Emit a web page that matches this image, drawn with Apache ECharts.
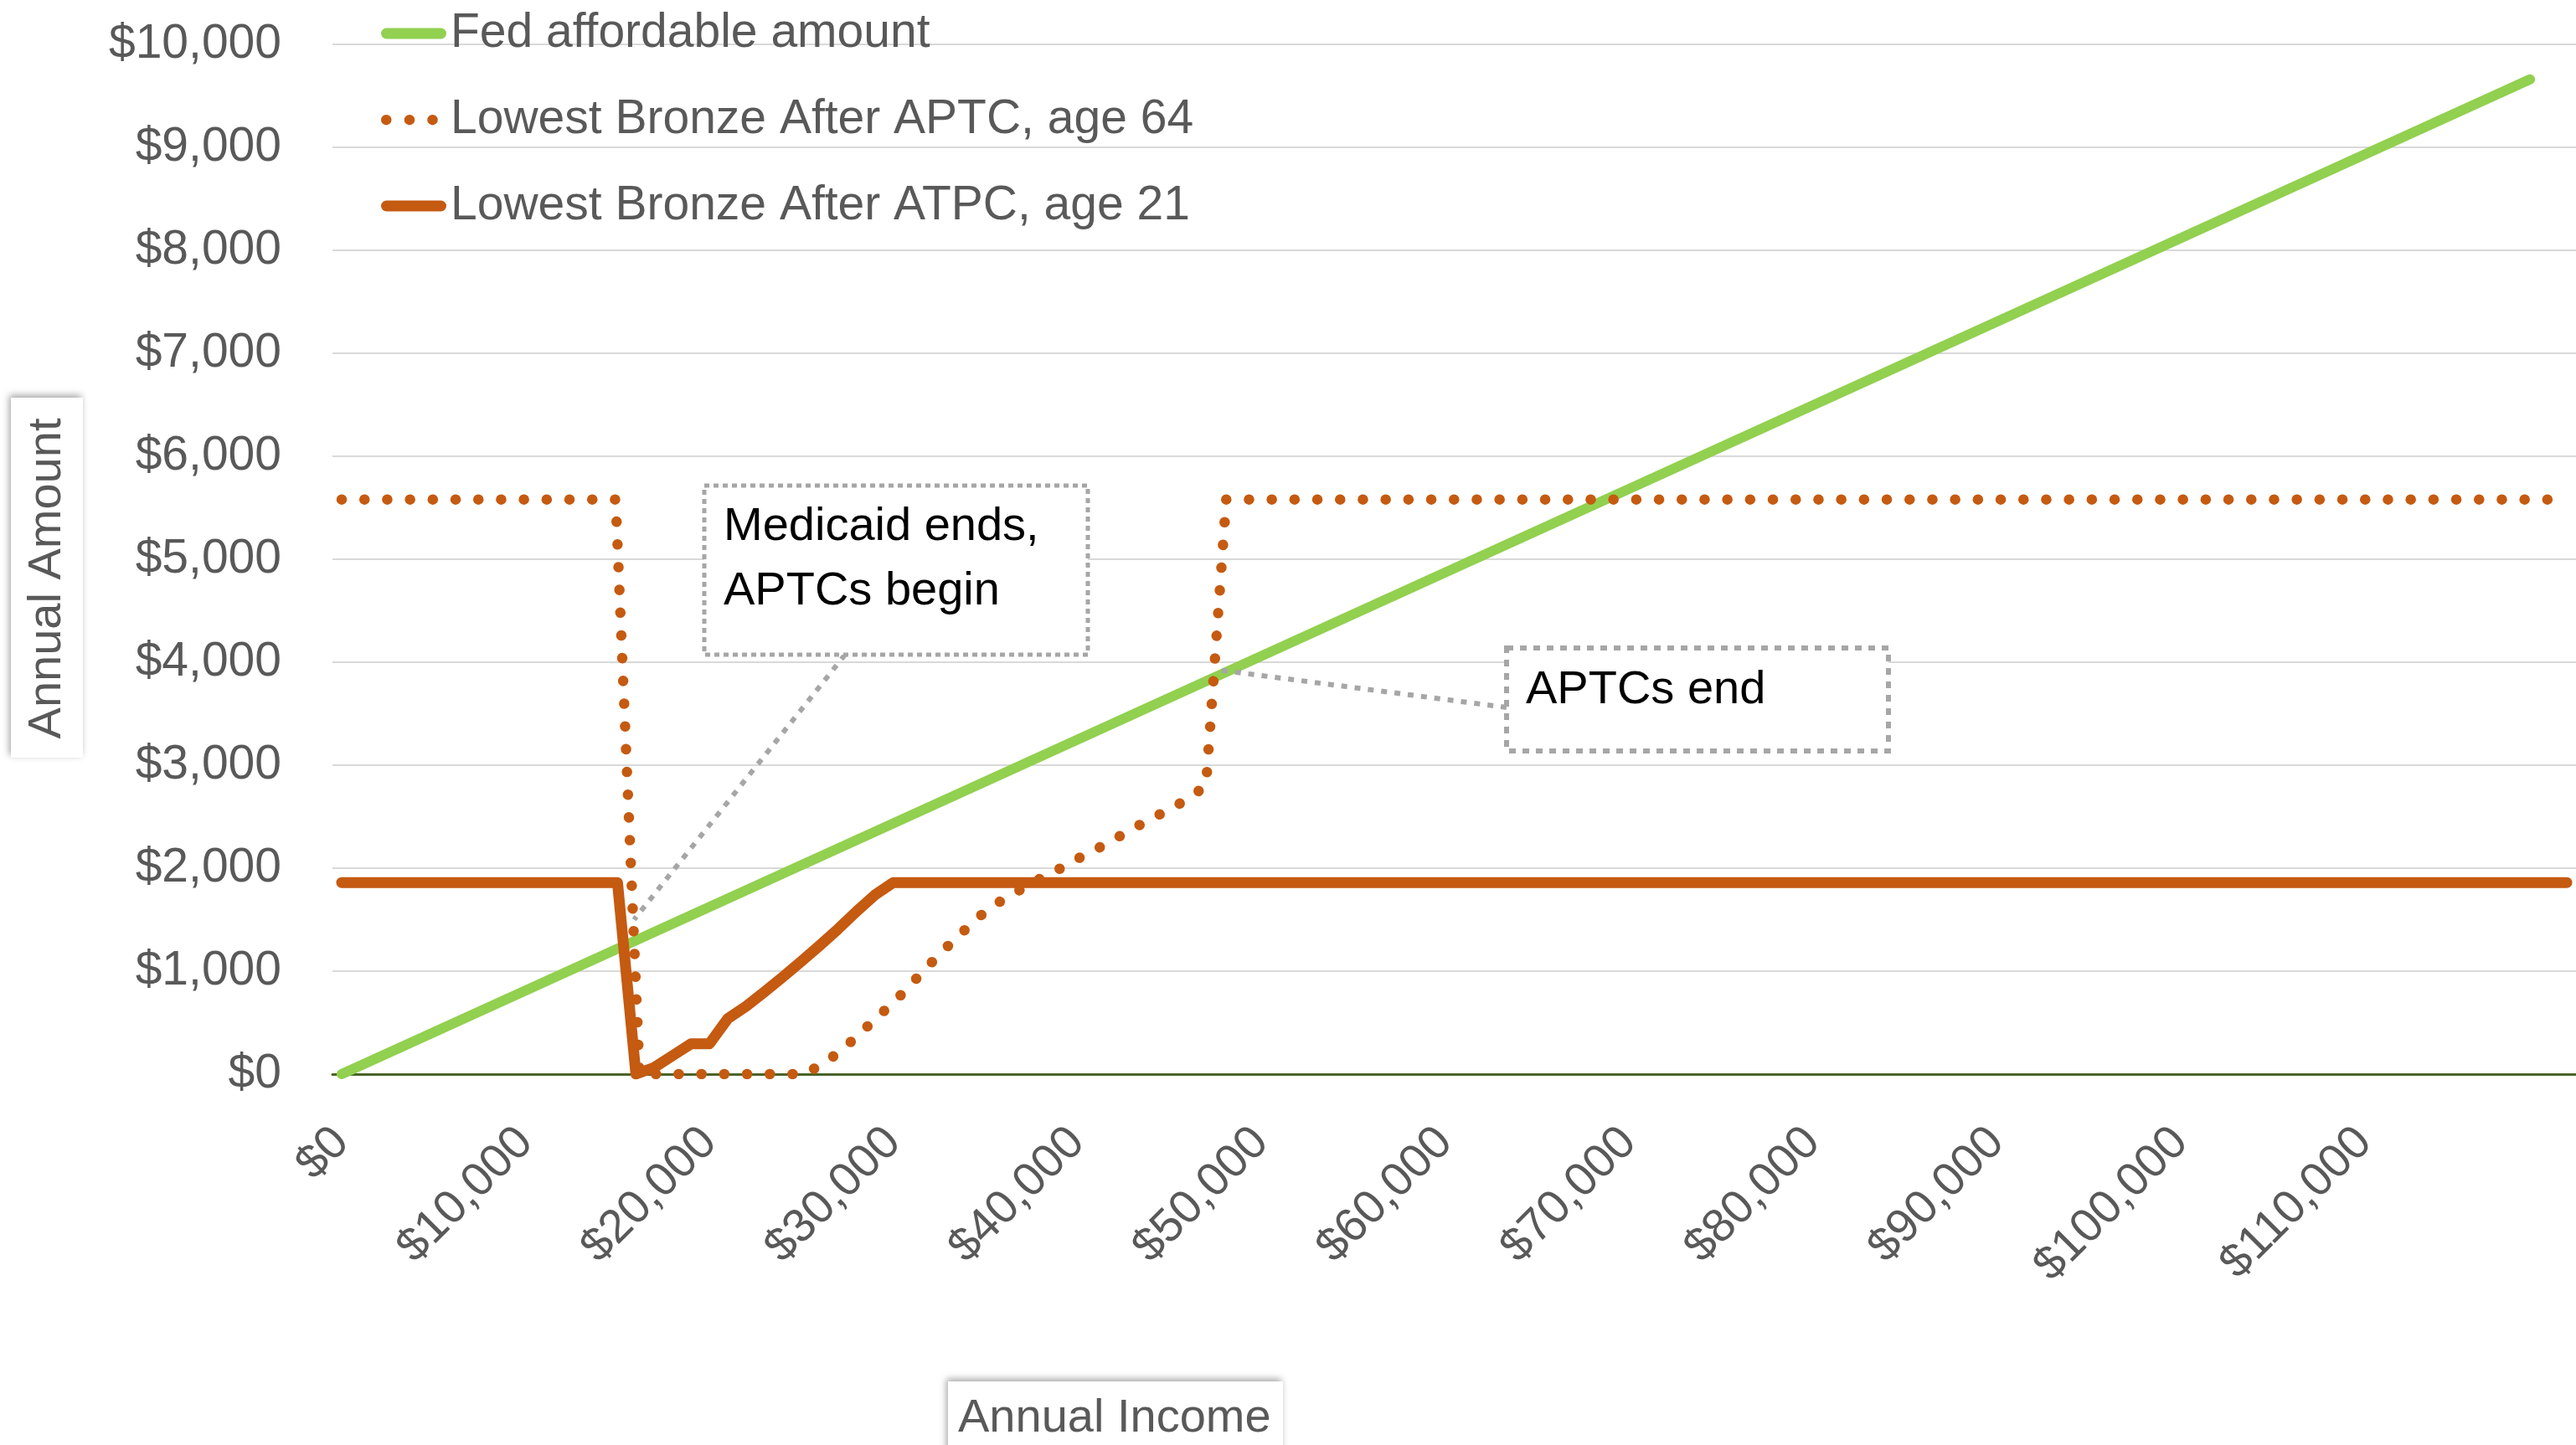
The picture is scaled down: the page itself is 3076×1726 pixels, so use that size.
<!DOCTYPE html>
<html>
<head>
<meta charset="utf-8">
<title>Lowest Bronze premium after APTC vs. federal affordable amount</title>
<script src="https://cdn.jsdelivr.net/npm/echarts@6/dist/echarts.min.js"></script>
<style>
  html, body { margin: 0; padding: 0; background: #ffffff; }
  #chart { width: 3076px; height: 1726px; }
</style>
</head>
<body>
<div id="chart"></div>
<script>
// Horizontal axis tick labels (annual income, dollars)
const incomeTicks = [0, 10000, 20000, 30000, 40000, 50000, 60000, 70000, 80000, 90000, 100000, 110000];

// Fed affordable amount
const fedIncome = [0, 59500, 119000];
const fedAmount = [0, 4830, 9660];

// Lowest Bronze after APTC, age 64
const age64Income = [0, 14900, 16200, 25100, 26100, 27100, 28100, 29100, 30100, 31000, 32000, 33000,
  34000, 35000, 36000, 37000, 38000, 39000, 40000, 41000, 42000, 42900, 43900, 44900, 45900,
  47000, 48100, 121000];
const age64Amount = [5580, 5580, 0, 0, 90, 220, 380, 550, 710, 880, 1070, 1250,
  1420, 1580, 1700, 1800, 1900, 1990, 2090, 2180, 2280, 2370, 2470, 2560, 2660,
  2800, 5580, 5580];

// Lowest Bronze after APTC, age 21
const age21Income = [0, 15000, 16000, 17000, 18000, 19000, 20000, 21000, 22000, 23000, 24000,
  25000, 26000, 27000, 28000, 29000, 30000, 121000];
const age21Amount = [1860, 1860, 0, 65, 180, 295, 295, 540, 660, 800, 945,
  1095, 1250, 1410, 1580, 1740, 1860, 1860];

// Points the callouts refer to (income, amount)
const medicaidAnchor = [15900, 1500];
const aptcEndAnchor = [47450, 3930];

const FONT = 'Liberation Sans';
const GREY_TEXT = '#595959';
const GREEN = '#92D050';
const ORANGE = '#C55A11';
const CALLOUT = '#A6A6A6';

const pairs = (xs, ys) => xs.map((x, i) => [x, ys[i]]);
const dollars = v => '$' + Number(v).toLocaleString('en-US');

const capsuleIcon = 'path://M6.5,0L71.5,0A6.5,6.5,0,0,1,71.5,13L6.5,13A6.5,6.5,0,0,1,6.5,0Z';
const dotsIcon = 'path://M78,0M0,6.5A6.25,6.25,0,1,0,12.5,6.5A6.25,6.25,0,1,0,0,6.5Z' +
  'M27.75,6.5A6.25,6.25,0,1,0,40.25,6.5A6.25,6.25,0,1,0,27.75,6.5Z' +
  'M55.25,6.5A6.25,6.25,0,1,0,67.75,6.5A6.25,6.25,0,1,0,55.25,6.5Z';

const chart = echarts.init(document.getElementById('chart'), null, { renderer: 'canvas' });

const option = {
  animation: false,
  backgroundColor: '#ffffff',
  grid: {
    left: 397, right: 0, top: 53, bottom: 443,
    containLabel: false,
    outerBoundsMode: 'none'
  },
  legend: {
    orient: 'vertical',
    left: 455,
    top: 10,
    padding: 0,
    itemWidth: 78,
    itemHeight: 13,
    itemGap: 43,
    selectedMode: false,
    itemStyle: { borderWidth: 0 },
    textStyle: { fontFamily: FONT, fontSize: 57, color: GREY_TEXT, lineHeight: 60 },
    data: [
      { name: 'Fed affordable amount', icon: capsuleIcon },
      { name: 'Lowest Bronze After APTC, age 64', icon: dotsIcon },
      { name: 'Lowest Bronze After ATPC, age 21', icon: capsuleIcon }
    ]
  },
  xAxis: {
    type: 'value',
    min: -500,
    max: 121500,
    splitLine: { show: false },
    axisTick: { show: false },
    axisLine: { show: true, lineStyle: { color: '#4A6428', width: 3 } },
    axisLabel: {
      customValues: incomeTicks,
      rotate: 45,
      margin: 73,
      fontFamily: FONT,
      fontSize: 56,
      color: GREY_TEXT,
      formatter: dollars
    }
  },
  yAxis: {
    type: 'value',
    min: 0,
    max: 10000,
    interval: 1000,
    axisLine: { show: false },
    axisTick: { show: false },
    splitLine: { show: true, lineStyle: { color: '#D9D9D9', width: 2 } },
    axisLabel: {
      margin: 61,
      fontFamily: FONT,
      fontSize: 57,
      color: GREY_TEXT,
      formatter: dollars
    }
  },
  series: [
    {
      name: 'Fed affordable amount',
      type: 'line',
      color: GREEN,
      symbol: 'none',
      z: 3,
      data: pairs(fedIncome, fedAmount),
      lineStyle: { width: 12, cap: 'round', join: 'round' }
    },
    {
      name: 'Lowest Bronze After APTC, age 64',
      type: 'line',
      color: ORANGE,
      symbol: 'none',
      z: 4,
      data: pairs(age64Income, age64Amount),
      lineStyle: { width: 12.5, type: [0.1, 27.1], cap: 'round', join: 'round' }
    },
    {
      name: 'Lowest Bronze After ATPC, age 21',
      type: 'line',
      color: ORANGE,
      symbol: 'none',
      z: 5,
      data: pairs(age21Income, age21Amount),
      lineStyle: { width: 13, cap: 'round', join: 'round' }
    }
  ]
};

chart.setOption(option);

// Callouts and axis titles
const pMedicaid = chart.convertToPixel({ gridIndex: 0 }, medicaidAnchor);
const pAptcEnd = chart.convertToPixel({ gridIndex: 0 }, aptcEndAnchor);

const titleBox = (x, y, w, h) => ({
  type: 'rect', z: 20,
  shape: { x: x, y: y, width: w, height: h },
  style: {
    fill: '#ffffff',
    shadowBlur: 8, shadowColor: 'rgba(0,0,0,0.35)',
    shadowOffsetX: -2, shadowOffsetY: -3
  }
});

chart.setOption({
  graphic: [
    // "Medicaid ends, APTCs begin"
    {
      type: 'line', z: 20,
      shape: { x1: 1009, y1: 782, x2: pMedicaid[0], y2: pMedicaid[1] },
      style: { stroke: CALLOUT, lineWidth: 6, lineDash: [7, 9] }
    },
    {
      type: 'rect', z: 21,
      shape: { x: 841, y: 580, width: 458, height: 202 },
      style: { fill: '#ffffff', stroke: CALLOUT, lineWidth: 5, lineDash: [6, 5] }
    },
    {
      type: 'text', z: 22, x: 864, y: 629.5,
      style: { text: 'Medicaid ends,', fontFamily: FONT, fontSize: 56, fill: '#000000', align: 'left', verticalAlign: 'middle' }
    },
    {
      type: 'text', z: 22, x: 864, y: 706.5,
      style: { text: 'APTCs begin', fontFamily: FONT, fontSize: 56, fill: '#000000', align: 'left', verticalAlign: 'middle' }
    },
    // "APTCs end"
    {
      type: 'line', z: 20,
      shape: { x1: 1799, y1: 845, x2: pAptcEnd[0], y2: pAptcEnd[1] },
      style: { stroke: CALLOUT, lineWidth: 6, lineDash: [7, 9] }
    },
    {
      type: 'rect', z: 21,
      shape: { x: 1799, y: 774, width: 456, height: 123 },
      style: { fill: '#ffffff', stroke: CALLOUT, lineWidth: 6, lineDash: [8, 8] }
    },
    {
      type: 'text', z: 22, x: 1822, y: 825,
      style: { text: 'APTCs end', fontFamily: FONT, fontSize: 56, fill: '#000000', align: 'left', verticalAlign: 'middle' }
    },
    // Axis titles
    titleBox(13, 475, 86, 430),
    {
      type: 'text', z: 22, x: 56.5, y: 691, rotation: Math.PI / 2,
      style: { text: 'Annual Amount', fontFamily: FONT, fontSize: 56, fill: GREY_TEXT, align: 'center', verticalAlign: 'middle' }
    },
    titleBox(1132, 1650, 400, 110),
    {
      type: 'text', z: 22, x: 1144, y: 1695,
      style: { text: 'Annual Income', fontFamily: FONT, fontSize: 56, fill: GREY_TEXT, align: 'left', verticalAlign: 'middle' }
    }
  ]
});
</script>
</body>
</html>
